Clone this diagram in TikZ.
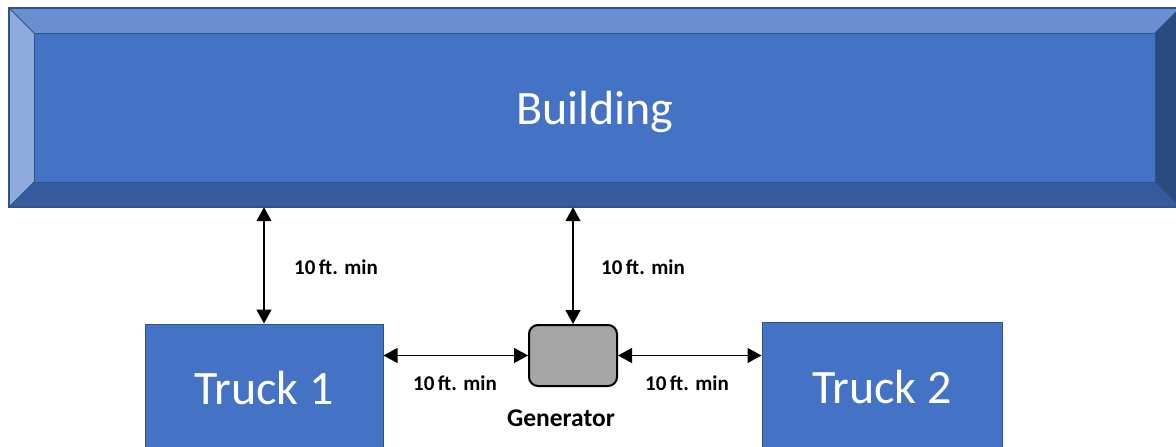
\documentclass[tikz,border=0pt]{standalone}
\usepackage{fontspec}
\setmainfont{Carlito}
\usetikzlibrary{arrows.meta}
\definecolor{bmid}{HTML}{4472C4}
\definecolor{btop}{HTML}{6A8FD0}
\definecolor{bleft}{HTML}{8FAADC}
\definecolor{bbot}{HTML}{355C9D}
\definecolor{bright}{HTML}{2A4B80}
\definecolor{bline}{HTML}{2F528F}
\definecolor{gfill}{HTML}{A5A5A5}
\tikzset{
  truckbox/.style={draw=bline, line width=1pt, fill=bmid, inner sep=0pt,
    text=white, font=\fontsize{48}{52}\selectfont},
  genbox/.style={draw=black, line width=2pt, fill=gfill, rounded corners=9pt,
    minimum width=88pt, minimum height=61pt, inner sep=0pt},
  dim/.style={line width=1.3pt, {Triangle[length=14pt,width=15pt]}-{Triangle[length=14pt,width=15pt]}},
  lbl/.style={font=\bfseries\fontsize{21}{24}\selectfont, inner sep=0pt},
  genlbl/.style={font=\bfseries\fontsize{25.5}{30}\selectfont, inner sep=0pt}
}
\begin{document}
\begin{tikzpicture}[x=1pt,y=-1pt]
\useasboundingbox (0,0) rectangle (1176,447);
% building bevel
\fill[bmid] (34,33) rectangle (1155,182);
\fill[btop] (9,8) -- (1180,8) -- (1155,33) -- (34,33) -- cycle;
\fill[bleft] (9,8) -- (34,33) -- (34,182) -- (9,207) -- cycle;
\fill[bbot] (9,207) -- (34,182) -- (1155,182) -- (1180,207) -- cycle;
\fill[bright] (1180,8) -- (1155,33) -- (1155,182) -- (1180,207) -- cycle;
\draw[bline, line width=1pt] (34,33) rectangle (1155,182);
\draw[bline, line width=0.8pt] (9,8) -- (34,33) (9,207) -- (34,182) (1180,8) -- (1155,33) (1180,207) -- (1155,182);
\draw[bline, line width=1.2pt] (9,8) rectangle (1180,207);
\node[inner sep=0pt, minimum width=1171pt, minimum height=199pt] (bld) at (594.5,107.5) {};
\node[text=white, font=\fontsize{48}{52}\selectfont] (bldtxt) at (595,112) {Building};
% trucks and generator
\node[truckbox, minimum width=238pt, minimum height=128pt] (t1) at (264,388) {Truck 1};
\node[truckbox, minimum width=240pt, minimum height=130pt] (t2) at (882,387) {Truck 2};
\node[genbox] (gen) at (573,355.5) {};
\node[genlbl] (genl) at (561,418) {Generator};
% dimension arrows
\draw[dim] (bld.south -| t1.north) -- (t1.north);
\draw[dim] (bld.south -| gen.north) -- (gen.north);
\draw[dim] (t1.east |- gen.west) -- (gen.west);
\draw[dim] (gen.east) -- (t2.west |- gen.east);
\node[lbl] (l1) at (336,267) {10\,ft. min};
\node[lbl] (l2) at (643,267) {10\,ft. min};
\node[lbl] (l3) at (455,383) {10\,ft. min};
\node[lbl] (l4) at (687,383) {10\,ft. min};
\end{tikzpicture}
\end{document}
